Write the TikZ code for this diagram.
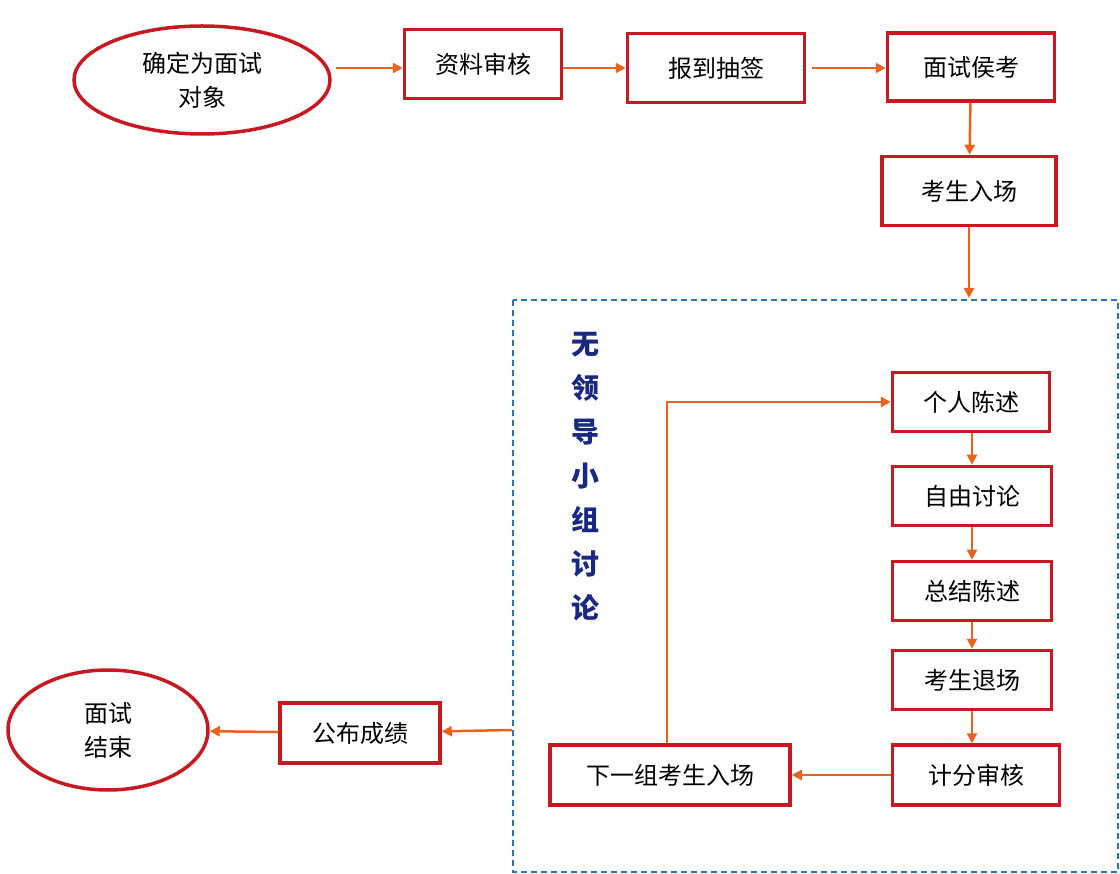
\documentclass[tikz,border=0pt]{standalone}
\usepackage{fontspec}
\setmainfont{Noto Sans CJK SC}
\usetikzlibrary{shapes.geometric,arrows.meta}
\definecolor{boxred}{RGB}{200,25,35}
\definecolor{arr}{RGB}{232,100,30}
\definecolor{dblue}{RGB}{45,115,185}
\definecolor{navy}{RGB}{25,40,130}
\begin{document}
\begin{tikzpicture}[x=1pt,y=-1pt,
  box/.style={draw=boxred,line width=3.5pt,minimum height=#1,inner sep=0pt,font=\fontsize{24}{28}\selectfont},
  box/.default=60pt,
  oval/.style={ellipse,draw=boxred,line width=3.5pt,inner sep=0pt,align=center,font=\fontsize{24}{34}\selectfont},
  link/.style={draw=arr,line width=2.5pt,-{Triangle[length=10pt,width=10pt]}}]
\useasboundingbox (0,0) rectangle (1120,874);
\draw[dblue,line width=1.5pt,dash pattern=on 6pt off 4pt] (513,300) rectangle (1118,872);
\node[font=\fontsize{28}{44}\selectfont\bfseries,text=navy,align=center] (vt) at (585,477) {无\\领\\导\\小\\组\\讨\\论};
\node[oval,minimum width=256pt,minimum height=108pt] (e1) at (202,80) {确定为面试\\对象};
\node[box=69pt,minimum width=157pt] (b1) at (483,64) {资料审核};
\node[box=69pt,minimum width=177pt] (b2) at (716,68) {报到抽签};
\node[box=68pt,minimum width=167pt] (b3) at (971,67) {面试侯考};
\node[box=69pt,minimum width=174pt] (b4) at (969,191) {考生入场};
\node[box=59pt,minimum width=157pt] (c1) at (971,402) {个人陈述};
\node[box=59pt,minimum width=159pt] (c2) at (972,496) {自由讨论};
\node[box=59pt,minimum width=159pt] (c3) at (972,591) {总结陈述};
\node[box=59pt,minimum width=159pt] (c4) at (972,680) {考生退场};
\node[box=60pt,minimum width=167pt] (c5) at (976,775) {计分审核};
\node[box=60pt,minimum width=240pt] (c6) at (670,775) {下一组考生入场};
\node[box=60pt,minimum width=160pt] (p) at (360,733) {公布成绩};
\node[oval,minimum width=200pt,minimum height=120pt] (e2) at (108,730) {面试\\结束};
\coordinate (top) at (969,298);
\coordinate (side) at (512,730);
\coordinate (s1) at (336,68);
\coordinate (s2) at (812,68);
\draw[link] (s1) -- (s1-|b1.west);
\draw[link] (b1.east|-b2) -- (b2.west);
\draw[link] (s2) -- (s2-|b3.west);
\draw[link] (b3) -- (b4);
\draw[link] (b4) -- (top);
\draw[link] (c1.south-|c2) -- (c2);
\draw[link] (c2) -- (c3);
\draw[link] (c3) -- (c4);
\draw[link] (c4.south) -- (c4.south|-c5.north);
\draw[link] (c5) -- (c6);
\draw[link] ([xshift=-3pt]c6.north) |- (c1.west);
\draw[link] (side) -- (p);
\draw[link] (p) -- (e2);
\end{tikzpicture}
\end{document}
